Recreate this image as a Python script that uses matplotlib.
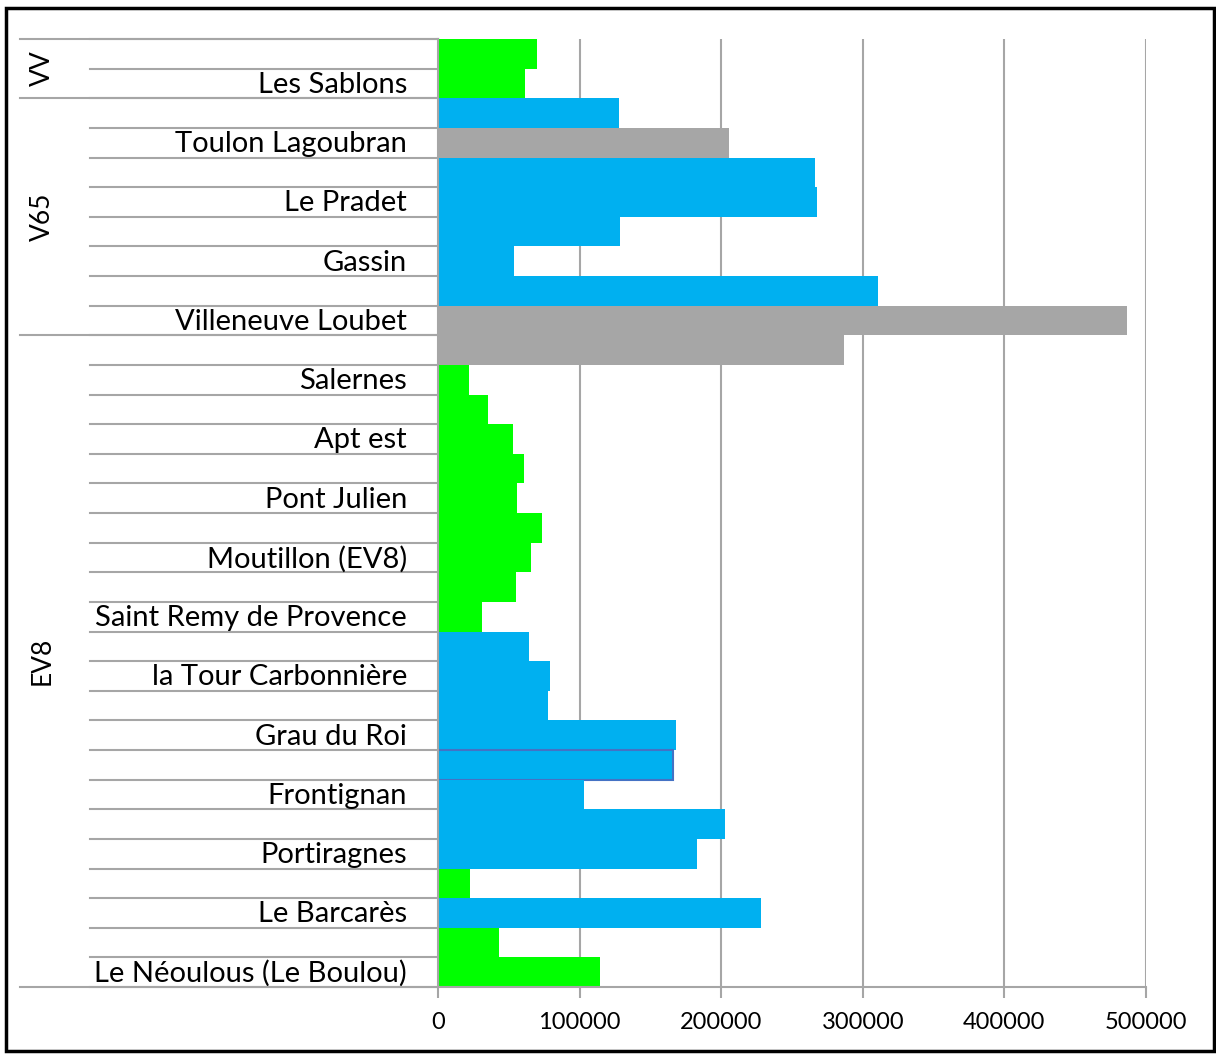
import matplotlib
matplotlib.use('Agg')
import matplotlib.pyplot as plt
from matplotlib.patches import Rectangle

# Data (top to bottom)
groups = ['VV', 'V65', 'EV8']
group_sizes = [2, 8, 22]
labels = ['', 'Les Sablons',
          '', 'Toulon Lagoubran', '', 'Le Pradet', '', 'Gassin', '', 'Villeneuve Loubet',
          '', 'Salernes', '', 'Apt est', '', 'Pont Julien', '', 'Moutillon (EV8)',
          '', 'Saint Remy de Provence', '', 'la Tour Carbonnière', '', 'Grau du Roi',
          '', 'Frontignan', '', 'Portiragnes', '', 'Le Barcarès', '', 'Le Néoulous (Le Boulou)']
values = [70000, 61500,
          128000, 205500, 266000, 268000, 128500, 54000, 311000, 486500,
          287000, 22000, 35000, 53000, 61000, 56000, 73500, 66000,
          55000, 31000, 64000, 79000, 78000, 168000,
          166000, 103000, 203000, 183000, 22600, 228000, 43000, 114500]
kinds = ['g', 'g',
         'b', 'x', 'b', 'b', 'b', 'b', 'b', 'x',
         'x', 'g', 'g', 'g', 'g', 'g', 'g', 'g',
         'g', 'g', 'b', 'b', 'b', 'b',
         'b', 'b', 'b', 'b', 'g', 'b', 'g', 'g']

colors = {'g': '#00FF00', 'b': '#00B0F0', 'x': '#A6A6A6'}
grid_c = '#A6A6A6'
font = ['Lato', 'DejaVu Sans']

W, H = 1216, 1054
fig = plt.figure(figsize=(W / 100, H / 100), dpi=100)
L, R, T, B = 438, 1146, 39, 987
ax = fig.add_axes([L / W, 1 - B / H, (R - L) / W, (B - T) / H])

n = len(values)
ypos = [i + 0.5 for i in range(n)]
edges = ['#4472C4' if i == 24 else 'none' for i in range(n)]
ax.barh(ypos, values, height=1.0, color=[colors[k] for k in kinds],
        edgecolor=edges, linewidth=1.5, zorder=2)

ax.set_xlim(0, 500000)
ax.set_ylim(n, 0)
ax.set_xticks(range(0, 500001, 100000))
ax.set_xticklabels([str(v) for v in range(0, 500001, 100000)], family=font, fontsize=17)
ax.tick_params(axis='x', length=8, color=grid_c, width=1.5, pad=10)
ax.set_yticks([])
ax.grid(axis='x', color=grid_c, linewidth=1.5, zorder=0)
for s in ['top', 'right']:
    ax.spines[s].set_visible(False)
ax.spines['left'].set_color(grid_c)
ax.spines['left'].set_linewidth(1.5)
ax.spines['bottom'].set_visible(False)

px = lambda x: (x - L) / (R - L)
trans = ax.get_yaxis_transform()

# category lines and labels
for i in range(n + 1):
    ax.plot([px(90), 0], [i, i], color=grid_c, lw=1.5, transform=trans, clip_on=False, zorder=1)
for i, lab in enumerate(labels):
    if lab:
        ax.text(px(407), i + 0.55, lab, transform=trans, ha='right', va='center',
                fontsize=21, family=font)

start = 0
for g, size in zip(groups, group_sizes):
    ax.plot([px(20), 0], [start, start], color=grid_c, lw=1.5, transform=trans, clip_on=False, zorder=1)
    ax.text(px(42), start + size / 2, g, transform=trans, ha='center', va='center',
            rotation=90, fontsize=19, family=font)
    start += size
ax.plot([px(20), 1], [n, n], color=grid_c, lw=1.5, transform=trans, clip_on=False, zorder=3)

# outer frame
fig.add_artist(Rectangle((6 / W, 1 - 1051 / H), 1208 / W, 1043 / H, transform=fig.transFigure,
                         fill=False, edgecolor='black', linewidth=2.5))

fig.savefig('out.png', dpi=100, facecolor='white')
